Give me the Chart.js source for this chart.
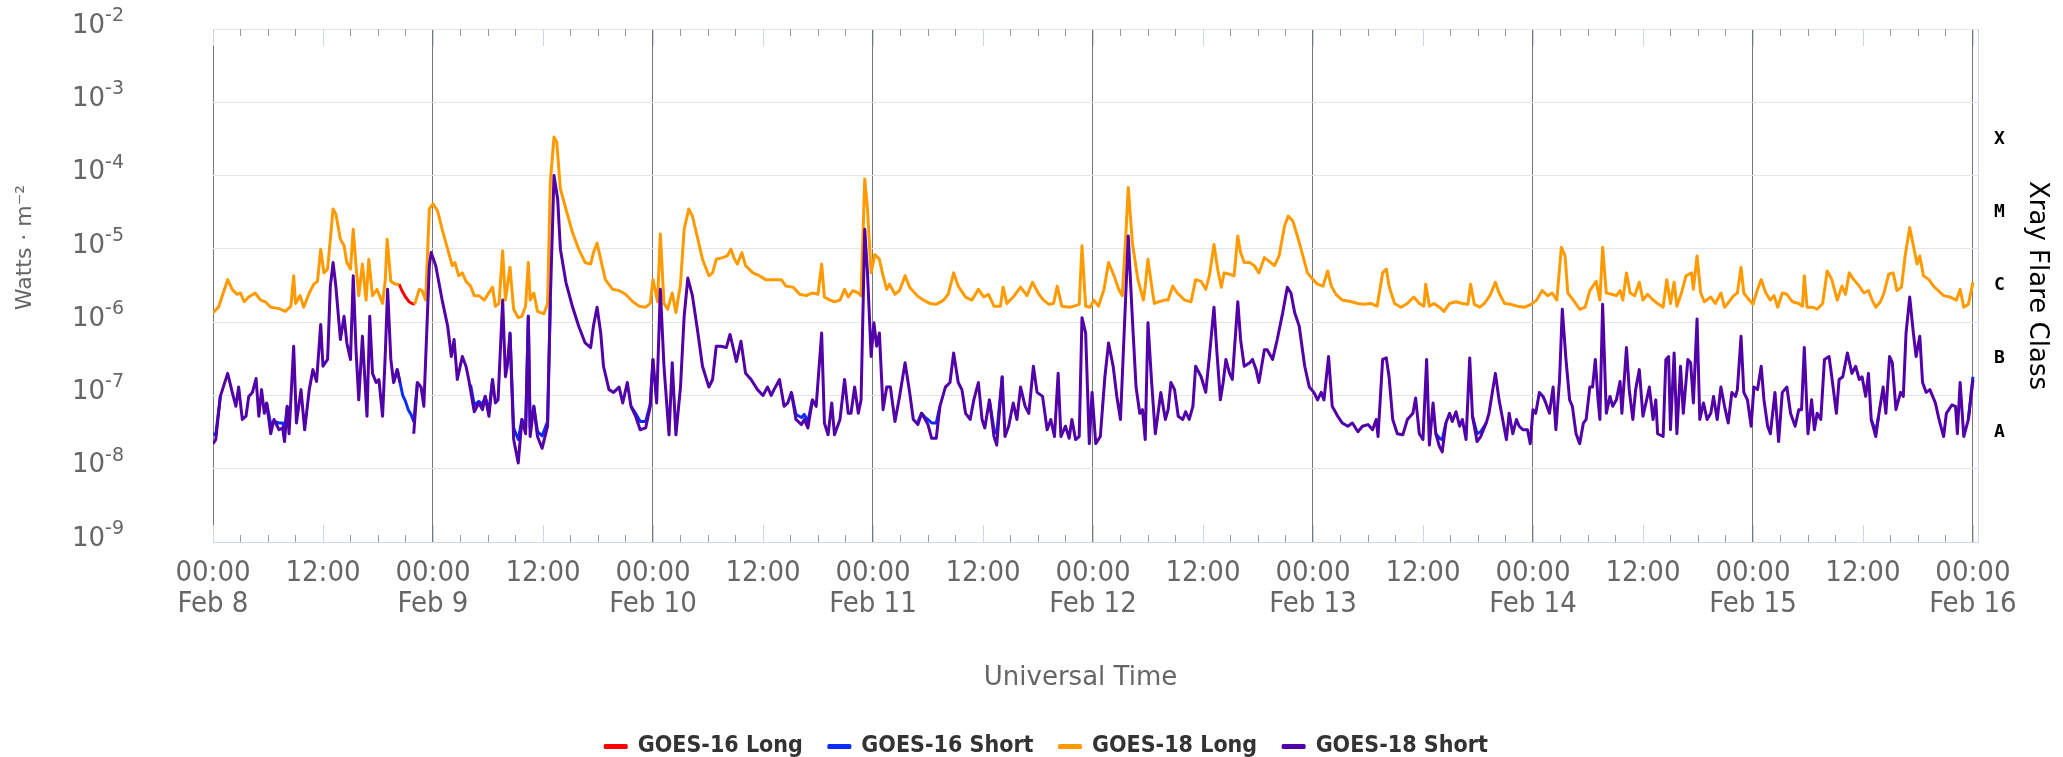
<!DOCTYPE html>
<html>
<head>
<meta charset="utf-8">
<title>GOES X-ray Flux</title>
<script src="https://cdn.jsdelivr.net/npm/chart.js@4.4.1/dist/chart.umd.min.js"></script>
<style>
  html, body { margin: 0; padding: 0; background: #ffffff; }
  #wrap { width: 2063px; height: 757px; }
</style>
</head>
<body>
<div id="wrap"><canvas id="xray" width="2063" height="757"></canvas></div>
<script>
// ---- axis labels --------------------------------------------------------
const dayLabels = ['Feb 8', 'Feb 9', 'Feb 10', 'Feb 11', 'Feb 12', 'Feb 13', 'Feb 14', 'Feb 15', 'Feb 16'];
const hourLabels = ['00:00', '12:00'];
const fluxTickValues = [1e-9, 1e-8, 1e-7, 1e-6, 1e-5, 1e-4, 1e-3, 1e-2];
const fluxTickBase = '10';
const fluxTickExponents = ['-9', '-8', '-7', '-6', '-5', '-4', '-3', '-2'];
const flareClasses = ['A', 'B', 'C', 'M', 'X'];
const flareClassCentres = [3.16e-8, 3.16e-7, 3.16e-6, 3.16e-5, 3.16e-4];
const xTitle = 'Universal Time';
const yTitle = 'Watts · m⁻²';

// ---- series: [hours after Feb 8 00:00 UTC, flux in W/m²] ----------------
const goes16Long = [
  [20.3,3.3e-6],[20.6,2.7e-6],[21.0,2.2e-6],[21.4,1.9e-6],[21.7,1.8e-6],[22.0,1.75e-6]
];

const goes16Short = [
  [0,3.0e-8],[0.3,2.9e-8],[0.8,9.7e-8],[1.0,null],
  [5.85,7.9e-8],[6.3,4.0e-8],[6.65,4.4e-8],[7.2,4.2e-8],[7.6,4.2e-8],[7.8,3.3e-8],[8.1,7.1e-8],[8.2,null],
  [19.7,1.5e-7],[20.1,2.25e-7],[20.4,1.5e-7],[20.7,1.0e-7],[21.0,8.3e-8],[21.3,6.4e-8],[21.6,5.5e-8],[21.9,4.4e-8],[22.3,1.5e-7],[22.4,null],
  [28.1,1.4e-7],[28.5,7.4e-8],[29.0,8.3e-8],[29.4,7.6e-8],[29.7,9.7e-8],[30.1,6.0e-8],[30.5,1.65e-7],[30.6,null],
  [32.4,7.1e-7],[32.8,3.6e-8],[33.3,2.5e-8],[33.7,4.7e-8],[34.1,3.4e-8],[34.4,1.2e-6],[34.6,3.6e-8],[35.0,7.1e-8],[35.4,3.2e-8],[35.9,2.8e-8],[36.5,4.4e-8],[36.8,2.0e-6],[36.9,null],
  [45.6,7.1e-8],[46.1,5.7e-8],[46.6,4.4e-8],[47.2,4.4e-8],[47.7,7.6e-8],[48.0,3.1e-7],[48.1,null],
  [63.1,1.1e-7],[63.6,5.5e-8],[64.2,5.0e-8],[64.5,5.5e-8],[64.9,4.4e-8],[65.4,8.7e-8],[65.5,null],
  [76.9,4.4e-8],[77.3,5.7e-8],[77.7,5.0e-8],[78.0,4.7e-8],[78.4,4.2e-8],[78.9,4.2e-8],[79.3,7.1e-8],[79.4,null],
  [84.7,8.7e-8],[85.2,3.4e-8],[85.5,3.0e-8],[86.1,1.8e-7],[86.2,null],
  [133.4,3.0e-8],[133.8,2.6e-8],[134.1,2.5e-8],[134.5,4.2e-8],[134.6,null],
  [137.4,5.2e-8],[137.9,3.0e-8],[138.3,3.2e-8],[138.9,4.2e-8],[139.0,null],
  [180.9,4.7e-8],[181.4,3.2e-8],[181.7,5.2e-8],[181.8,null],
  [191.5,4.7e-8],[192.0,1.8e-7]
];

const goes18Long = [
  [0,1.35e-6],[0.6,1.6e-6],[1.6,3.8e-6],[2.1,2.8e-6],[2.6,2.4e-6],[3.0,2.5e-6],[3.4,1.9e-6],[3.9,2.2e-6],
  [4.6,2.5e-6],[5.2,2.0e-6],[5.7,1.9e-6],[6.3,1.6e-6],[7.2,1.53e-6],[7.9,1.4e-6],[8.5,1.65e-6],[8.8,4.3e-6],
  [9.0,1.8e-6],[9.5,2.3e-6],[9.9,1.6e-6],[10.5,2.5e-6],[11.0,3.3e-6],[11.4,3.6e-6],[11.75,9.9e-6],[12.1,4.7e-6],
  [12.5,5.3e-6],[12.8,1.35e-5],[13.1,3.5e-5],[13.4,3.0e-5],[13.9,1.35e-5],[14.3,1.1e-5],[14.6,6.5e-6],[15.0,5.3e-6],
  [15.3,1.85e-5],[15.6,5.9e-6],[15.9,2.3e-6],[16.3,6.2e-6],[16.7,2.0e-6],[17.0,7.2e-6],[17.4,2.3e-6],[17.9,2.8e-6],
  [18.5,1.8e-6],[18.8,3.8e-6],[19.0,1.35e-5],[19.4,3.6e-6],[19.9,3.3e-6],[20.3,3.3e-6],[20.5,null],
  [22.0,1.75e-6],[22.5,2.8e-6],[22.8,2.7e-6],[23.2,2.0e-6],[23.6,3.5e-5],[24.0,4.1e-5],[24.5,3.3e-5],[25.0,1.85e-5],
  [25.6,9.9e-6],[26.1,5.9e-6],[26.4,6.5e-6],[26.8,4.3e-6],[27.2,4.7e-6],[27.6,3.6e-6],[28.1,3.1e-6],[28.5,2.3e-6],
  [29.0,2.3e-6],[29.6,2.0e-6],[29.9,2.3e-6],[30.5,3.0e-6],[30.8,1.65e-6],[31.2,1.8e-6],[31.6,9.4e-6],[31.9,2.0e-6],
  [32.4,5.6e-6],[32.8,1.5e-6],[33.3,1.15e-6],[33.7,1.2e-6],[34.1,1.65e-6],[34.4,6.5e-6],[34.6,2.0e-6],[35.0,2.5e-6],
  [35.4,1.4e-6],[36.1,1.3e-6],[36.5,1.8e-6],[36.8,8.1e-5],[37.2,3.35e-4],[37.5,2.85e-4],[37.9,6.6e-5],[38.5,3.5e-5],
  [39.2,1.7e-5],[39.9,9.9e-6],[40.6,6.5e-6],[41.2,6.2e-6],[41.5,8.9e-6],[41.9,1.2e-5],[42.3,7.2e-6],[42.8,3.8e-6],
  [43.6,2.8e-6],[44.3,2.7e-6],[45.0,2.4e-6],[45.8,1.9e-6],[46.5,1.65e-6],[47.2,1.6e-6],[47.7,1.8e-6],[48.0,3.8e-6],
  [48.5,1.9e-6],[48.8,1.6e-5],[49.2,1.8e-6],[49.6,1.5e-6],[50.1,2.5e-6],[50.5,1.35e-6],[51.0,3.3e-6],[51.4,1.85e-5],
  [51.9,3.5e-5],[52.3,2.8e-5],[52.9,1.35e-5],[53.4,7.2e-6],[54.1,4.3e-6],[54.5,4.7e-6],[54.9,7.2e-6],[55.6,7.6e-6],
  [56.1,8.0e-6],[56.5,9.9e-6],[56.9,7.2e-6],[57.2,6.2e-6],[57.7,8.9e-6],[58.1,5.9e-6],[58.9,4.7e-6],[59.6,4.3e-6],
  [60.3,3.8e-6],[61.2,3.8e-6],[62.0,3.8e-6],[62.5,3.1e-6],[63.3,3.0e-6],[64.0,2.4e-6],[64.7,2.3e-6],[65.4,2.5e-6],
  [66.0,2.4e-6],[66.4,6.2e-6],[66.7,2.2e-6],[67.3,2.0e-6],[67.8,1.9e-6],[68.4,2.0e-6],[68.9,2.8e-6],[69.3,2.2e-6],
  [69.8,2.7e-6],[70.4,2.5e-6],[70.7,2.3e-6],[71.1,9.0e-5],[71.4,3.5e-5],[71.8,4.7e-6],[72.2,8.4e-6],[72.7,7.2e-6],
  [73.1,4.3e-6],[73.5,2.8e-6],[73.8,3.3e-6],[74.4,2.4e-6],[74.9,2.7e-6],[75.5,4.3e-6],[76.0,3.0e-6],[76.8,2.3e-6],
  [77.5,2.0e-6],[78.2,1.8e-6],[78.9,1.75e-6],[79.7,2.0e-6],[80.2,2.4e-6],[80.8,4.7e-6],[81.3,3.1e-6],[82.1,2.2e-6],
  [82.8,2.0e-6],[83.5,2.8e-6],[84.1,2.2e-6],[84.6,2.4e-6],[85.2,1.65e-6],[85.9,1.65e-6],[86.2,3.0e-6],[86.6,1.8e-6],
  [87.3,2.2e-6],[88.1,3.0e-6],[88.8,2.3e-6],[89.4,3.5e-6],[90.1,2.4e-6],[90.6,2.0e-6],[91.2,1.75e-6],[91.7,1.8e-6],
  [92.1,3.1e-6],[92.6,1.65e-6],[93.4,1.6e-6],[93.9,1.65e-6],[94.5,1.75e-6],[94.8,1.1e-5],[95.2,1.65e-6],[95.7,1.6e-6],
  [96.1,2.0e-6],[96.6,1.65e-6],[97.2,2.8e-6],[97.7,6.5e-6],[98.3,4.3e-6],[98.8,2.8e-6],[99.2,2.3e-6],[99.6,1.7e-5],
  [99.85,6.9e-5],[100.3,1.2e-5],[100.9,3.8e-6],[101.5,2.0e-6],[101.7,3.1e-6],[102.0,7.2e-6],[102.4,3.1e-6],[102.7,1.8e-6],
  [103.2,1.9e-6],[103.8,2.0e-6],[104.2,2.0e-6],[104.7,3.1e-6],[105.2,2.5e-6],[106.0,2.0e-6],[106.7,1.9e-6],[107.2,3.8e-6],
  [107.8,3.6e-6],[108.3,2.8e-6],[108.7,4.3e-6],[109.2,1.15e-5],[109.6,5.3e-6],[110.0,3.0e-6],[110.3,4.7e-6],[110.9,4.5e-6],
  [111.4,4.3e-6],[111.8,1.5e-5],[112.1,8.9e-6],[112.5,6.5e-6],[113.1,6.5e-6],[113.6,5.9e-6],[114.1,4.7e-6],[114.7,7.6e-6],
  [115.2,6.8e-6],[115.8,5.9e-6],[116.3,8.0e-6],[116.9,2.05e-5],[117.3,2.8e-5],[117.8,2.4e-5],[118.3,1.5e-5],[118.9,8.0e-6],
  [119.4,4.7e-6],[120.0,3.8e-6],[120.5,3.3e-6],[121.1,3.1e-6],[121.6,5.0e-6],[122.0,3.1e-6],[122.5,2.4e-6],[123.2,2.0e-6],
  [124.2,1.9e-6],[124.9,1.8e-6],[125.6,1.75e-6],[126.3,1.8e-6],[127.0,1.65e-6],[127.6,4.7e-6],[128.0,5.3e-6],[128.3,3.1e-6],
  [128.9,1.8e-6],[129.6,1.6e-6],[130.3,1.8e-6],[131.0,2.2e-6],[131.6,1.8e-6],[132.1,1.65e-6],[132.3,3.3e-6],[132.7,1.65e-6],
  [133.2,1.8e-6],[133.8,1.6e-6],[134.3,1.4e-6],[134.9,1.8e-6],[135.6,1.9e-6],[136.3,1.8e-6],[136.9,1.75e-6],[137.2,3.3e-6],
  [137.6,1.75e-6],[138.2,1.6e-6],[138.7,1.8e-6],[139.3,2.3e-6],[139.9,3.5e-6],[140.3,2.5e-6],[140.9,1.8e-6],[141.6,1.75e-6],
  [142.3,1.65e-6],[143.1,1.6e-6],[143.8,1.75e-6],[144.4,2.0e-6],[145.0,2.7e-6],[145.6,2.3e-6],[146.1,2.5e-6],[146.6,2.0e-6],
  [147.1,1.05e-5],[147.5,8.0e-6],[147.8,2.5e-6],[148.4,2.0e-6],[149.1,1.5e-6],[149.7,1.6e-6],[150.2,2.7e-6],[150.9,3.6e-6],
  [151.3,2.0e-6],[151.6,1.05e-5],[152.0,2.5e-6],[152.6,2.4e-6],[153.1,2.3e-6],[153.5,2.7e-6],[153.8,2.0e-6],[154.2,4.7e-6],
  [154.6,2.5e-6],[155.1,2.3e-6],[155.6,3.5e-6],[156.0,2.0e-6],[156.5,2.4e-6],[157.1,2.0e-6],[157.6,1.8e-6],[158.2,1.6e-6],
  [158.6,3.8e-6],[159.0,1.8e-6],[159.4,3.5e-6],[159.7,1.65e-6],[160.2,2.5e-6],[160.7,4.3e-6],[161.3,4.7e-6],[161.5,2.8e-6],
  [161.9,8.0e-6],[162.3,2.5e-6],[162.7,1.9e-6],[163.4,2.2e-6],[163.9,1.8e-6],[164.5,2.5e-6],[164.9,1.6e-6],[165.4,1.9e-6],
  [165.9,2.3e-6],[166.3,2.5e-6],[166.7,5.6e-6],[167.0,2.5e-6],[167.6,2.0e-6],[168.0,1.75e-6],[168.5,2.8e-6],[168.9,3.8e-6],
  [169.4,2.5e-6],[169.9,2.0e-6],[170.3,2.3e-6],[170.7,1.6e-6],[171.2,2.5e-6],[171.7,2.4e-6],[172.3,1.9e-6],[173.0,1.8e-6],
  [173.4,1.65e-6],[173.6,4.3e-6],[173.9,1.6e-6],[174.5,1.6e-6],[175.0,1.5e-6],[175.6,1.8e-6],[176.1,5.0e-6],[176.6,3.8e-6],
  [177.2,2.0e-6],[177.7,3.1e-6],[178.1,2.4e-6],[178.5,4.7e-6],[179.0,3.8e-6],[179.6,3.1e-6],[180.1,2.5e-6],[180.6,2.7e-6],
  [181.0,2.0e-6],[181.4,1.6e-6],[181.9,1.9e-6],[182.3,2.5e-6],[182.8,4.5e-6],[183.3,4.7e-6],[183.7,2.7e-6],[184.2,3.0e-6],
  [184.6,8.0e-6],[185.1,1.95e-5],[185.5,1.1e-5],[185.9,6.2e-6],[186.2,8.0e-6],[186.6,4.3e-6],[187.2,3.8e-6],[187.7,3.1e-6],
  [188.2,2.7e-6],[188.8,2.3e-6],[189.5,2.2e-6],[190.2,2.0e-6],[190.6,2.8e-6],[191.0,1.6e-6],[191.5,1.75e-6],[192.0,3.5e-6]
];

const goes18Short = [
  [0,2.2e-8],[0.3,2.5e-8],[0.8,9.7e-8],[1.6,2.0e-7],[2.1,1.1e-7],[2.5,7.1e-8],[2.8,1.3e-7],[3.2,4.7e-8],
  [3.6,5.2e-8],[3.9,9.7e-8],[4.3,1.1e-7],[4.7,1.7e-7],[5.0,5.2e-8],[5.3,1.2e-7],[5.6,5.7e-8],[5.85,7.9e-8],
  [6.3,3.0e-8],[6.65,4.7e-8],[7.2,3.4e-8],[7.6,3.6e-8],[7.8,2.35e-8],[8.1,7.1e-8],[8.3,3.0e-8],[8.8,4.7e-7],
  [9.1,4.2e-8],[9.6,1.2e-7],[10.0,3.4e-8],[10.5,1.2e-7],[10.9,2.25e-7],[11.3,1.55e-7],[11.75,9.3e-7],[12.0,2.5e-7],
  [12.5,3.1e-7],[12.8,3.1e-6],[13.1,6.5e-6],[13.4,3.1e-6],[13.9,5.8e-7],[14.3,1.2e-6],[14.6,5.2e-7],[15.0,3.1e-7],
  [15.3,4.3e-6],[15.6,4.2e-7],[15.9,8.7e-8],[16.3,6.4e-7],[16.8,5.2e-8],[17.1,1.2e-6],[17.4,2.0e-7],[17.8,1.5e-7],
  [18.1,1.65e-7],[18.5,5.2e-8],[18.8,3.8e-7],[19.05,2.8e-6],[19.4,3.1e-7],[19.7,1.5e-7],[20.1,2.25e-7],[20.4,1.5e-7],[20.5,null],
  [21.9,3.0e-8],[22.3,1.5e-7],[22.7,1.3e-7],[23.0,7.1e-8],[23.6,5.9e-6],[23.8,8.9e-6],[24.3,5.9e-6],[25.0,2.0e-6],
  [25.6,8.8e-7],[26.0,3.4e-7],[26.3,5.8e-7],[26.65,1.65e-7],[27.2,3.4e-7],[27.6,2.5e-7],[27.9,1.65e-7],[28.5,6.0e-8],
  [29.0,7.9e-8],[29.4,6.4e-8],[29.7,9.7e-8],[30.1,5.2e-8],[30.5,1.65e-7],[30.8,7.9e-8],[31.1,8.7e-8],[31.6,2.0e-6],
  [31.9,1.8e-7],[32.1,2.5e-7],[32.4,7.1e-7],[32.8,2.5e-8],[33.3,1.2e-8],[33.7,4.7e-8],[34.1,3.0e-8],[34.4,1.2e-6],
  [34.6,2.75e-8],[35.0,7.1e-8],[35.4,2.75e-8],[35.9,1.9e-8],[36.5,3.8e-8],[36.8,2.0e-6],[37.2,1.0e-4],[37.6,4.8e-5],
  [37.9,9.9e-6],[38.5,3.5e-6],[39.2,1.65e-6],[39.9,8.8e-7],[40.6,5.2e-7],[41.2,4.5e-7],[41.5,8.8e-7],[41.9,1.6e-6],
  [42.3,7.1e-7],[42.6,2.5e-7],[43.2,1.2e-7],[43.7,1.1e-7],[44.3,1.3e-7],[44.7,7.9e-8],[45.2,1.5e-7],[45.6,7.1e-8],
  [46.1,5.2e-8],[46.6,3.4e-8],[47.2,3.6e-8],[47.7,7.1e-8],[48.0,3.1e-7],[48.4,7.9e-8],[48.8,2.8e-6],[49.2,2.5e-7],
  [49.75,2.9e-8],[50.1,2.8e-7],[50.5,2.9e-8],[51.0,1.3e-7],[51.4,1.2e-6],[51.8,4.0e-6],[52.3,2.3e-6],[52.9,7.1e-7],
  [53.4,2.5e-7],[54.1,1.3e-7],[54.5,1.65e-7],[54.9,4.7e-7],[55.4,4.7e-7],[56.0,4.5e-7],[56.4,6.8e-7],[56.8,4.2e-7],
  [57.1,2.9e-7],[57.6,5.5e-7],[58.1,2.0e-7],[58.7,1.65e-7],[59.4,1.2e-7],[60.0,1.0e-7],[60.5,1.3e-7],[60.9,1.0e-7],
  [61.2,1.2e-7],[61.8,1.65e-7],[62.3,7.1e-8],[62.7,7.9e-8],[63.1,1.1e-7],[63.6,4.7e-8],[64.2,4.0e-8],[64.5,4.7e-8],
  [64.9,3.6e-8],[65.4,8.7e-8],[65.8,7.1e-8],[66.4,7.1e-7],[66.7,4.2e-8],[67.1,2.9e-8],[67.5,7.9e-8],[67.8,2.9e-8],
  [68.4,4.7e-8],[68.9,1.65e-7],[69.3,5.7e-8],[69.6,5.7e-8],[70.0,1.3e-7],[70.4,5.7e-8],[70.7,8.7e-8],[71.1,1.85e-5],
  [71.4,4.7e-6],[71.8,3.4e-7],[72.1,9.8e-7],[72.4,4.7e-7],[72.7,7.1e-7],[73.1,6.4e-8],[73.5,1.3e-7],[73.9,1.3e-7],
  [74.4,4.4e-8],[74.9,9.7e-8],[75.5,2.8e-7],[76.0,1.1e-7],[76.4,4.7e-8],[76.9,4.0e-8],[77.3,5.7e-8],[77.7,4.7e-8],
  [78.0,4.0e-8],[78.4,2.6e-8],[78.9,2.6e-8],[79.3,7.1e-8],[79.9,1.3e-7],[80.4,1.5e-7],[80.8,3.8e-7],[81.3,1.5e-7],
  [81.7,1.2e-7],[82.1,5.7e-8],[82.6,4.7e-8],[83.0,8.7e-8],[83.5,1.5e-7],[83.9,4.7e-8],[84.2,3.6e-8],[84.7,8.7e-8],
  [85.2,2.75e-8],[85.5,2.1e-8],[86.1,1.8e-7],[86.4,2.75e-8],[86.8,3.8e-8],[87.3,7.9e-8],[87.7,4.7e-8],[88.1,1.3e-7],
  [88.6,7.1e-8],[89.0,5.7e-8],[89.5,2.5e-7],[89.9,1.1e-7],[90.5,9.7e-8],[91.0,3.4e-8],[91.4,4.7e-8],[91.8,2.75e-8],
  [92.2,2.0e-7],[92.5,2.75e-8],[93.0,3.8e-8],[93.4,2.6e-8],[93.7,4.7e-8],[94.1,2.5e-8],[94.5,2.75e-8],[94.8,1.15e-6],
  [95.2,7.1e-7],[95.6,2.2e-8],[95.9,1.1e-7],[96.3,2.2e-8],[96.8,2.75e-8],[97.3,1.8e-7],[97.7,5.2e-7],[98.2,2.5e-7],
  [98.6,9.7e-8],[99.0,4.7e-8],[99.4,7.1e-7],[99.85,1.5e-5],[100.3,1.1e-6],[100.7,1.3e-7],[101.1,5.7e-8],[101.4,6.4e-8],
  [101.7,2.5e-8],[102.0,9.8e-7],[102.4,1.5e-7],[102.8,3.0e-8],[103.1,5.7e-8],[103.4,1.1e-7],[103.9,4.7e-8],[104.2,6.4e-8],
  [104.5,1.5e-7],[104.9,1.2e-7],[105.3,5.2e-8],[105.8,4.7e-8],[106.1,6.0e-8],[106.5,4.7e-8],[106.9,7.1e-8],[107.2,2.5e-7],
  [107.8,1.8e-7],[108.3,1.1e-7],[108.7,3.4e-7],[109.2,1.6e-6],[109.5,4.2e-7],[109.9,8.7e-8],[110.2,1.5e-7],[110.5,3.1e-7],
  [110.9,2.0e-7],[111.2,1.65e-7],[111.8,1.9e-6],[112.1,5.8e-7],[112.5,2.5e-7],[113.1,2.8e-7],[113.4,3.1e-7],[113.8,2.25e-7],
  [114.1,1.5e-7],[114.7,4.2e-7],[115.0,4.2e-7],[115.6,3.1e-7],[116.1,5.8e-7],[116.7,1.35e-6],[117.2,3.0e-6],[117.6,2.5e-6],
  [118.0,1.35e-6],[118.5,8.8e-7],[119.1,2.5e-7],[119.6,1.3e-7],[120.1,1.1e-7],[120.5,8.7e-8],[120.9,1.1e-7],[121.2,8.7e-8],
  [121.7,3.4e-7],[122.1,7.1e-8],[122.7,5.2e-8],[123.2,4.2e-8],[123.8,3.8e-8],[124.3,4.2e-8],[124.9,3.2e-8],[125.4,3.8e-8],
  [126.0,4.0e-8],[126.5,3.4e-8],[126.9,4.7e-8],[127.1,2.75e-8],[127.6,3.1e-7],[128.0,3.25e-7],[128.3,1.8e-7],[128.7,4.7e-8],
  [129.2,3.0e-8],[129.8,2.9e-8],[130.3,4.7e-8],[130.9,5.7e-8],[131.2,9.2e-8],[131.6,3.0e-8],[132.0,2.5e-8],[132.4,3.1e-7],
  [132.7,2.1e-8],[133.1,7.9e-8],[133.4,3.0e-8],[133.8,2.0e-8],[134.1,1.7e-8],[134.5,4.2e-8],[134.9,5.7e-8],[135.2,4.4e-8],
  [135.6,6.0e-8],[136.0,3.8e-8],[136.3,4.7e-8],[136.7,2.5e-8],[137.1,3.25e-7],[137.4,5.2e-8],[137.9,2.35e-8],[138.3,2.75e-8],
  [138.9,4.2e-8],[139.2,5.7e-8],[139.9,2.0e-7],[140.3,8.7e-8],[140.7,4.7e-8],[141.1,2.5e-8],[141.4,5.7e-8],[141.8,3.0e-8],
  [142.2,4.7e-8],[142.5,3.8e-8],[142.9,3.4e-8],[143.4,3.4e-8],[143.7,2.2e-8],[144.0,6.4e-8],[144.3,5.7e-8],[144.7,1.1e-7],
  [145.1,9.7e-8],[145.4,7.9e-8],[145.8,5.7e-8],[146.2,1.3e-7],[146.5,3.4e-8],[146.9,1.65e-7],[147.2,1.5e-6],[147.6,3.1e-7],
  [148.0,8.7e-8],[148.3,7.1e-8],[148.7,3.0e-8],[149.1,2.2e-8],[149.5,4.2e-8],[149.8,4.7e-8],[150.2,1.3e-7],[150.5,1.3e-7],
  [150.8,3.1e-7],[151.1,8.7e-8],[151.3,4.7e-8],[151.6,1.75e-6],[152.0,5.7e-8],[152.4,9.7e-8],[152.7,7.1e-8],[153.1,8.7e-8],
  [153.5,1.55e-7],[153.7,5.7e-8],[154.2,4.5e-7],[154.5,1.2e-7],[154.9,4.7e-8],[155.2,1.2e-7],[155.6,2.25e-7],[156.0,5.2e-8],
  [156.4,8.7e-8],[156.7,1.3e-7],[157.1,4.7e-8],[157.4,8.7e-8],[157.6,3.0e-8],[158.2,2.75e-8],[158.5,3.1e-7],[158.8,3.4e-7],
  [159.0,3.4e-8],[159.4,3.8e-7],[159.7,3.0e-8],[160.1,2.5e-7],[160.4,5.7e-8],[160.9,3.1e-7],[161.2,2.8e-7],[161.5,7.9e-8],
  [161.9,1.1e-6],[162.2,4.7e-8],[162.6,7.9e-8],[163.0,4.7e-8],[163.4,5.7e-8],[163.7,9.7e-8],[164.1,4.7e-8],[164.5,1.3e-7],
  [164.9,7.1e-8],[165.3,4.2e-8],[165.7,1.1e-7],[166.1,9.7e-8],[166.3,1.2e-7],[166.7,6.4e-7],[167.0,1.1e-7],[167.4,8.7e-8],
  [167.8,3.8e-8],[168.1,1.3e-7],[168.5,1.2e-7],[168.9,2.5e-7],[169.2,8.7e-8],[169.6,3.8e-8],[169.9,3.0e-8],[170.4,1.1e-7],
  [170.8,2.35e-8],[171.2,1.1e-7],[171.7,1.3e-7],[172.1,5.7e-8],[172.6,3.8e-8],[173.0,6.4e-8],[173.3,6.4e-8],[173.6,4.5e-7],
  [174.0,3.0e-8],[174.4,8.7e-8],[174.7,3.4e-8],[175.0,5.7e-8],[175.4,4.7e-8],[175.8,3.1e-7],[176.3,3.4e-7],[176.6,1.8e-7],
  [177.1,5.7e-8],[177.4,1.65e-7],[177.8,1.8e-7],[178.3,3.8e-7],[178.8,2.0e-7],[179.2,2.5e-7],[179.6,1.65e-7],[179.9,1.8e-7],
  [180.3,9.7e-8],[180.6,2.0e-7],[180.9,4.7e-8],[181.4,2.75e-8],[181.7,5.2e-8],[182.2,1.3e-7],[182.5,5.7e-8],[182.9,3.4e-7],
  [183.2,2.8e-7],[183.6,6.4e-8],[184.1,1.1e-7],[184.4,9.7e-8],[184.7,7.1e-7],[185.1,2.2e-6],[185.5,7.1e-7],[185.8,3.4e-7],
  [186.2,6.4e-7],[186.5,1.5e-7],[186.9,1.1e-7],[187.3,1.2e-7],[187.9,7.9e-8],[188.3,4.7e-8],[188.8,2.75e-8],[189.1,5.7e-8],
  [189.7,7.4e-8],[190.1,7.1e-8],[190.3,3.0e-8],[190.6,1.5e-7],[191.0,2.75e-8],[191.5,4.7e-8],[192.0,1.65e-7]
];

// ---- layout -------------------------------------------------------------
const PLOT = { left: 213, top: 29, right: 1978, bottom: 542 };
const PAD = { top: 29, left: 30, right: 0, bottom: -11 };
const SANS = '"DejaVu Sans", Verdana, sans-serif';
const NARROW = '"Liberation Sans Narrow", "Arial Narrow", "DejaVu Sans Condensed", sans-serif';

const toPoints = rows => rows.map(([h, f]) => ({ x: h, y: f }));

const tickHours = [];
dayLabels.forEach((_, d) => {
  tickHours.push(d * 24);
  if (d < dayLabels.length - 1) tickHours.push(d * 24 + 12);
});

// Tick marks along the bottom and top edges: long marks every 12 h, short every 3 h.
const edgeTicks = {
  id: 'edgeTicks',
  beforeDatasetsDraw(chart) {
    const { ctx, chartArea: a, scales: { x } } = chart;
    ctx.save();
    ctx.lineWidth = 1;
    const last = (dayLabels.length - 1) * 24;
    for (let h = 0; h <= last; h += 3) {
      const px = Math.round(x.getPixelForValue(h)) + 0.5;
      const major = h % 12 === 0;
      const len = major ? 17 : 7;
      ctx.strokeStyle = major ? '#ccd6eb' : '#999999';
      ctx.beginPath();
      ctx.moveTo(px, a.bottom); ctx.lineTo(px, a.bottom - len);
      ctx.moveTo(px, a.top); ctx.lineTo(px, a.top + len);
      ctx.stroke();
    }
    ctx.restore();
  }
};

// Flux tick labels written as a power of ten with a raised exponent,
// plus the two axis titles placed relative to the plot area.
const axisText = {
  id: 'axisText',
  afterDraw(chart) {
    const { ctx, chartArea: a, scales: { y } } = chart;
    ctx.save();
    ctx.fillStyle = '#666666';
    ctx.textBaseline = 'middle';

    const baseFont = `26px ${SANS}`;
    const expFont = `19px ${SANS}`;
    const labelRight = y.right - 89;
    fluxTickValues.forEach((v, i) => {
      const py = y.getPixelForValue(v);
      ctx.font = expFont;
      const wExp = ctx.measureText(fluxTickExponents[i]).width;
      ctx.font = baseFont;
      const wBase = ctx.measureText(fluxTickBase).width;
      ctx.textAlign = 'left';
      ctx.fillText(fluxTickBase, labelRight - wExp - wBase, py - 3);
      ctx.font = expFont;
      ctx.fillText(fluxTickExponents[i], labelRight - wExp, py - 13);
    });

    ctx.textAlign = 'center';
    ctx.font = `26px ${SANS}`;
    ctx.fillText(xTitle, (a.left + a.right) / 2 - 15, a.bottom + 136);
    ctx.font = `22px ${SANS}`;
    ctx.translate(25, (a.top + a.bottom) / 2 - 38);
    ctx.rotate(-Math.PI / 2);
    ctx.fillText(yTitle, 0, 0);
    ctx.restore();
  }
};

const lineStyle = { pointRadius: 0, borderWidth: 3, tension: 0, fill: false, spanGaps: false, borderJoinStyle: 'round' };

new Chart(document.getElementById('xray'), {
  type: 'line',
  data: {
    datasets: [
      { label: 'GOES-16 Long',  data: toPoints(goes16Long),  borderColor: '#ff0000', backgroundColor: '#ff0000', order: 4, ...lineStyle },
      { label: 'GOES-16 Short', data: toPoints(goes16Short), borderColor: '#0a2cff', backgroundColor: '#0a2cff', order: 3, ...lineStyle },
      { label: 'GOES-18 Long',  data: toPoints(goes18Long),  borderColor: '#ff9a00', backgroundColor: '#ff9a00', order: 2, ...lineStyle },
      { label: 'GOES-18 Short', data: toPoints(goes18Short), borderColor: '#5200a8', backgroundColor: '#5200a8', order: 1, ...lineStyle }
    ]
  },
  options: {
    responsive: false,
    animation: false,
    layout: { padding: PAD },
    plugins: {
      tooltip: { enabled: false },
      legend: {
        position: 'bottom',
        labels: {
          boxWidth: 21,
          boxHeight: 2,
          padding: 26,
          color: '#333333',
          font: { family: NARROW, size: 23, weight: 'bold' },
          sort: (a, b) => a.datasetIndex - b.datasetIndex
        }
      }
    },
    scales: {
      x: {
        type: 'linear',
        min: 0,
        max: 192.55,
        afterBuildTicks: s => { s.ticks = tickHours.map(v => ({ value: v })); },
        afterFit: s => { s.height = s.chart.height - PLOT.bottom - s.chart.legend.height - PAD.bottom; },
        ticks: {
          autoSkip: false,
          maxRotation: 0,
          minRotation: 0,
          padding: 16,
          color: '#666666',
          font: { family: NARROW, size: 29, lineHeight: 1.07 },
          callback: v => (v % 24 === 0 ? [hourLabels[0], dayLabels[v / 24]] : hourLabels[1])
        },
        grid: {
          drawTicks: false,
          lineWidth: 1,
          color: c => (c.tick && c.tick.value % 24 === 0 ? '#777777' : 'rgba(0,0,0,0)')
        },
        border: { display: true, color: '#ccd6eb', width: 1 },
        title: { display: false }
      },
      y: {
        type: 'logarithmic',
        position: 'left',
        min: 1e-9,
        max: 1e-2,
        afterBuildTicks: s => { s.ticks = fluxTickValues.map(v => ({ value: v })); },
        afterFit: s => { s.width = PLOT.left - PAD.left; s.paddingTop = 0; s.paddingBottom = 0; },
        ticks: { display: false },
        grid: { color: '#e6e6e6', drawTicks: false, lineWidth: 1 },
        border: { display: false },
        title: { display: false }
      },
      y2: {
        type: 'logarithmic',
        position: 'right',
        min: 1e-9,
        max: 1e-2,
        afterBuildTicks: s => { s.ticks = flareClassCentres.map(v => ({ value: v })); },
        afterFit: s => { s.width = s.chart.width - PLOT.right - PAD.right; s.paddingTop = 0; s.paddingBottom = 0; },
        ticks: {
          padding: 16,
          color: '#000000',
          font: { family: '"DejaVu Sans Mono", monospace', size: 18, weight: 'bold' },
          callback: (v, i) => flareClasses[i]
        },
        grid: { display: false, drawTicks: false },
        border: { display: true, color: '#ccd6eb', width: 1 },
        title: {
          display: true,
          text: 'Xray Flare Class',
          color: '#000000',
          font: { family: SANS, size: 26 },
          padding: { top: 11, bottom: 0 }
        }
      }
    }
  },
  plugins: [edgeTicks, axisText]
});
</script>
</body>
</html>
